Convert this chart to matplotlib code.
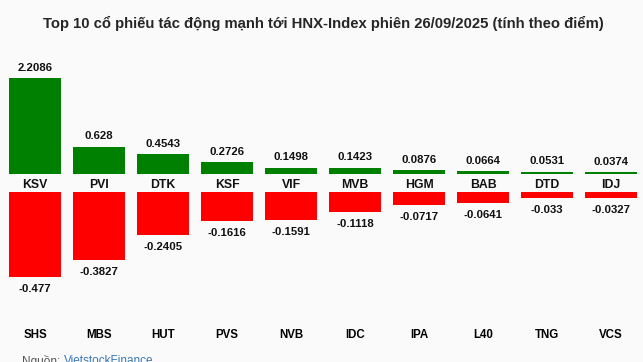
import matplotlib
matplotlib.use("Agg")
import matplotlib.pyplot as plt

plt.rcParams['font.family'] = ['Liberation Sans', 'DejaVu Sans']

pos_tickers = ["KSV", "PVI", "DTK", "KSF", "VIF", "MVB", "HGM", "BAB", "DTD", "IDJ"]
pos_values = [2.2086, 0.628, 0.4543, 0.2726, 0.1498, 0.1423, 0.0876, 0.0664, 0.0531, 0.0374]
neg_tickers = ["SHS", "MBS", "HUT", "PVS", "NVB", "IDC", "IPA", "L40", "TNG", "VCS"]
neg_values = [-0.477, -0.3827, -0.2405, -0.1616, -0.1591, -0.1118, -0.0717, -0.0641, -0.033, -0.0327]
title = "Top 10 cổ phiếu tác động mạnh tới HNX-Index phiên 26/09/2025 (tính theo điểm)"

W, H = 643, 362
bg = "#fafafa"
fig = plt.figure(figsize=(W / 100, H / 100), dpi=100, facecolor=bg)

def px_axes(left, top, right, bottom):
    return fig.add_axes([left / W, 1 - bottom / H, (right - left) / W, (bottom - top) / H])

x = list(range(len(pos_values)))
bw = 52 / 64

# top axes: baseline at 174 px, scale ~43.33 px/unit
ax1 = px_axes(3, 60, 643, 174)
ax1.bar(x, pos_values, width=bw, color="#008000")
ax1.set_xlim(-0.5, 9.5)
ax1.set_ylim(0, 114 / 43.33)
for xi, v in zip(x, pos_values):
    ax1.annotate(f"{v:g}", (xi, v), xytext=(0, 4), textcoords="offset points",
                 ha="center", va="bottom", fontsize=8.2, fontweight="bold", color="#111111")

# bottom axes: top at 192 px, scale ~178.2 px/unit
ax2 = px_axes(3, 192, 643, 300)
ax2.bar(x, neg_values, width=bw, color="#ff0000")
ax2.set_xlim(-0.5, 9.5)
ax2.set_ylim(-108 / 178.2, 0)
for xi, v in zip(x, neg_values):
    ax2.annotate(f"{v:g}", (xi, v), xytext=(0, -5), textcoords="offset points",
                 ha="center", va="top", fontsize=8.2, fontweight="bold", color="#111111")

for ax in (ax1, ax2):
    ax.set_facecolor("none")
    ax.axis("off")

# ticker labels between bars
for xi, t in zip(x, pos_tickers):
    ax1.text(xi, -11 / 43.33, t, ha="center", va="center", fontsize=8.8,
             fontweight="bold", color="#111111")

# bottom labels
for xi, t in zip(x, neg_tickers):
    ax2.text(xi, -(335 - 192) / 178.2, t, ha="center", va="center", fontsize=8.3,
             fontweight="bold", color="#000000")

fig.text(323 / W, 1 - 23 / H, title, ha="center", va="center", fontsize=10.7,
         fontweight="bold", color="#262626")

t1 = fig.text(22 / W, 1 - 361 / H, "Nguồn: ", ha="left", va="center", fontsize=8.5, color="#555555")
fig.canvas.draw()
bb = t1.get_window_extent()
fig.text(bb.x1 / W, 1 - 361 / H, "VietstockFinance", ha="left", va="center", fontsize=8.5, color="#3a78b5")

fig.savefig("out.png", dpi=100, facecolor=bg)
